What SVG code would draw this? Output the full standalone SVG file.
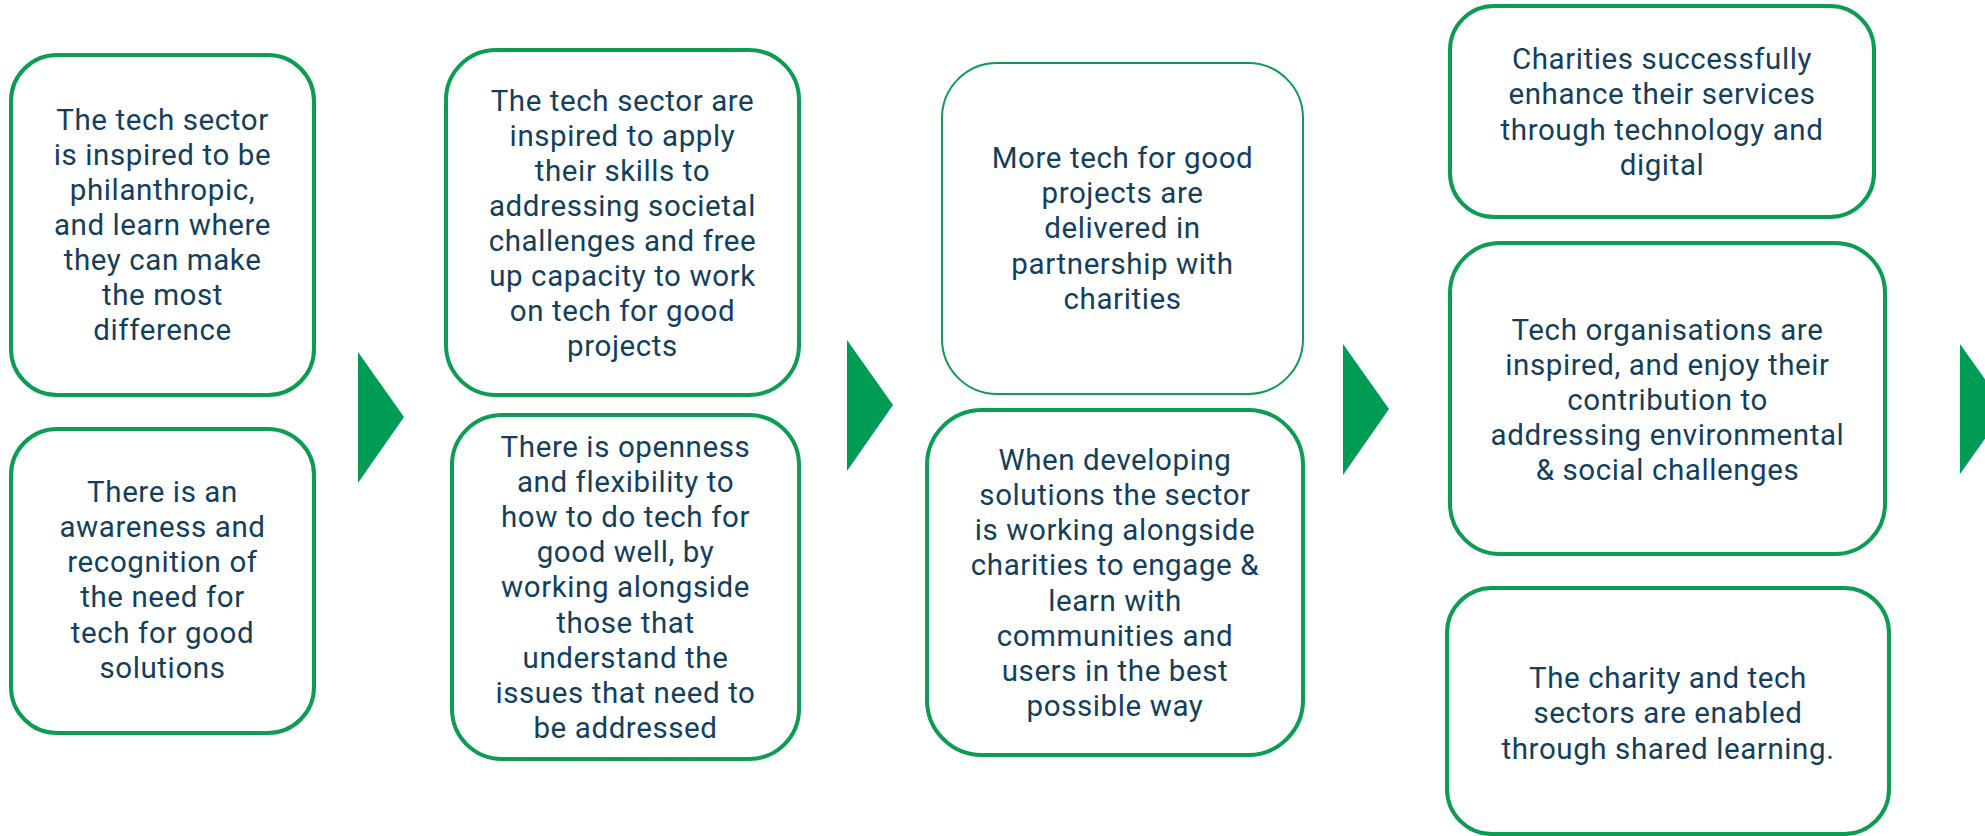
<svg xmlns="http://www.w3.org/2000/svg" width="1985" height="836" viewBox="0 0 1985 836">
<style>
.box{fill:#ffffff;stroke:#0c9c52;stroke-width:4}
.thin{stroke-width:2}
.arrow{fill:#009b55}
text{font-family:Roboto,"Open Sans","Liberation Sans",sans-serif;font-size:29.5px;letter-spacing:0.6px;fill:#133f5d;text-anchor:middle}
</style>
<rect width="1985" height="836" fill="#ffffff"/>
<g id="connectors">
<polygon class="arrow" points="358,352 404,417 358,483"/>
<polygon class="arrow" points="847,340 893,405 847,471"/>
<polygon class="arrow" points="1343,344 1389,409 1343,475"/>
<polygon class="arrow" points="1960,344 2006,409 1960,474"/>
</g>
<g id="a1">
<rect class="box" x="11" y="55" width="303" height="340" rx="46"/>
<text x="162.5" y="130">The tech sector</text>
<text x="162.5" y="165">is inspired to be</text>
<text x="162.5" y="200">philanthropic,</text>
<text x="162.5" y="235">and learn where</text>
<text x="162.5" y="270">they can make</text>
<text x="162.5" y="305">the most</text>
<text x="162.5" y="340">difference</text>
</g>
<g id="a2">
<rect class="box" x="11" y="429" width="303" height="304" rx="46"/>
<text x="162.5" y="502">There is an</text>
<text x="162.5" y="537">awareness and</text>
<text x="162.5" y="572">recognition of</text>
<text x="162.5" y="607">the need for</text>
<text x="162.5" y="643">tech for good</text>
<text x="162.5" y="678">solutions</text>
</g>
<g id="b1">
<rect class="box" x="446" y="50" width="353" height="345" rx="50"/>
<text x="622.5" y="111">The tech sector are</text>
<text x="622.5" y="146">inspired to apply</text>
<text x="622.5" y="181">their skills to</text>
<text x="622.5" y="216">addressing societal</text>
<text x="622.5" y="251">challenges and free</text>
<text x="622.5" y="286">up capacity to work</text>
<text x="622.5" y="321">on tech for good</text>
<text x="622.5" y="356">projects</text>
</g>
<g id="b2">
<rect class="box" x="452" y="415" width="347" height="344" rx="50"/>
<text x="625.5" y="457">There is openness</text>
<text x="625.5" y="492">and flexibility to</text>
<text x="625.5" y="527">how to do tech for</text>
<text x="625.5" y="562">good well, by</text>
<text x="625.5" y="597">working alongside</text>
<text x="625.5" y="633">those that</text>
<text x="625.5" y="668">understand the</text>
<text x="625.5" y="703">issues that need to</text>
<text x="625.5" y="738">be addressed</text>
</g>
<g id="c1">
<rect class="box thin" x="942" y="63" width="361" height="331" rx="55"/>
<text x="1122.5" y="168">More tech for good</text>
<text x="1122.5" y="203">projects are</text>
<text x="1122.5" y="238">delivered in</text>
<text x="1122.5" y="274">partnership with</text>
<text x="1122.5" y="309">charities</text>
</g>
<g id="c2">
<rect class="box" x="927" y="410" width="376" height="345" rx="55"/>
<text x="1115" y="470">When developing</text>
<text x="1115" y="505">solutions the sector</text>
<text x="1115" y="540">is working alongside</text>
<text x="1115" y="575">charities to engage &amp;</text>
<text x="1115" y="611">learn with</text>
<text x="1115" y="646">communities and</text>
<text x="1115" y="681">users in the best</text>
<text x="1115" y="716">possible way</text>
</g>
<g id="d1">
<rect class="box" x="1450" y="6" width="424" height="211" rx="44"/>
<text x="1662" y="69">Charities successfully</text>
<text x="1662" y="104">enhance their services</text>
<text x="1662" y="140">through technology and</text>
<text x="1662" y="175">digital</text>
</g>
<g id="d2">
<rect class="box" x="1450" y="243" width="435" height="311" rx="50"/>
<text x="1667.5" y="340">Tech organisations are</text>
<text x="1667.5" y="375">inspired, and enjoy their</text>
<text x="1667.5" y="410">contribution to</text>
<text x="1667.5" y="445">addressing environmental</text>
<text x="1667.5" y="480">&amp; social challenges</text>
</g>
<g id="d3">
<rect class="box" x="1447" y="588" width="442" height="246" rx="45"/>
<text x="1668" y="688">The charity and tech</text>
<text x="1668" y="723">sectors are enabled</text>
<text x="1668" y="759">through shared learning.</text>
</g>
</svg>
